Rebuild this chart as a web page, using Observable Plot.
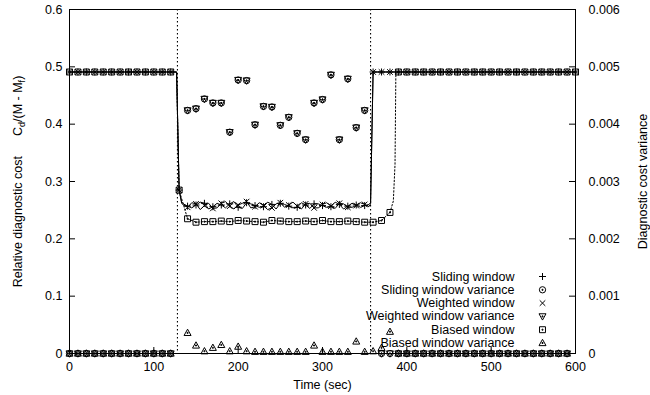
<!DOCTYPE html>
<html>
<head>
<meta charset="utf-8">
<script src="https://cdn.jsdelivr.net/npm/d3@7"></script>
<script src="https://cdn.jsdelivr.net/npm/@observablehq/plot@0.6"></script>
<style>
  html, body { margin: 0; padding: 0; background: #fff; }
  #chart { width: 650px; height: 395px; }
</style>
</head>
<body>
<div id="chart"></div>
<script>
// ---- Window cost samples (every 10 s), relative diagnostic cost ----
const sampleTime = [0,10,20,30,40,50,60,70,80,90,100,110,120,130,140,150,160,170,180,190,200,
  210,220,230,240,250,260,270,280,290,300,310,320,330,340,350,360,370,380,390,400,410,420,430,
  440,450,460,470,480,490,500,510,520,530,540,550,560,570,580,590,600];

const slidingCost = [0.491,0.491,0.491,0.491,0.491,0.491,0.491,0.491,0.491,0.491,0.491,0.491,0.491,
  0.285,
  0.257,0.259,0.262,0.256,0.259,0.261,0.255,0.263,0.258,0.256,0.260,0.262,0.257,0.255,0.259,0.261,
  0.258,0.256,0.260,0.257,0.259,0.258,
  0.491,0.491,0.491,0.491,0.491,0.491,0.491,0.491,0.491,0.491,0.491,0.491,0.491,0.491,0.491,0.491,
  0.491,0.491,0.491,0.491,0.491,0.491,0.491,0.491,0.491];

const weightedCost = [0.491,0.491,0.491,0.491,0.491,0.491,0.491,0.491,0.491,0.491,0.491,0.491,0.491,
  0.285,
  0.255,0.261,0.258,0.253,0.262,0.257,0.259,0.265,0.256,0.258,0.254,0.263,0.259,0.257,0.261,0.254,
  0.260,0.257,0.262,0.255,0.258,0.260,
  0.491,0.491,0.491,0.491,0.491,0.491,0.491,0.491,0.491,0.491,0.491,0.491,0.491,0.491,0.491,0.491,
  0.491,0.491,0.491,0.491,0.491,0.491,0.491,0.491,0.491];

const biasedCost = [0.491,0.491,0.491,0.491,0.491,0.491,0.491,0.491,0.491,0.491,0.491,0.491,0.491,
  0.285,0.235,0.229,
  0.230,0.230,0.231,0.230,0.232,0.231,0.230,0.229,0.232,0.231,0.230,0.230,0.231,0.230,0.232,0.230,
  0.230,0.231,0.230,0.229,
  0.229,0.232,0.246,
  0.491,0.491,0.491,0.491,0.491,0.491,0.491,0.491,0.491,0.491,0.491,0.491,0.491,0.491,0.491,0.491,
  0.491,0.491,0.491,0.491,0.491,0.491];

// ---- Readings between the 10 s samples (drawn as line only) ----
const slidingMidTime = [127,133,135,145,155,165,175,185,195,205,215,225,235,245,255,265,275,285,
  295,305,315,325,335,345,355,357];
const slidingMidCost = [0.491,0.264,0.261,0.254,0.264,0.252,0.262,0.254,0.265,0.253,0.261,0.255,
  0.264,0.252,0.260,0.254,0.263,0.253,0.261,0.255,0.264,0.252,0.262,0.255,0.260,0.263];

const weightedMidTime = [127,133,135,145,155,165,175,185,195,205,215,225,235,245,255,265,275,285,
  295,305,315,325,335,345,355,357];
const weightedMidCost = [0.491,0.262,0.259,0.263,0.251,0.262,0.254,0.265,0.252,0.262,0.254,0.263,
  0.251,0.261,0.255,0.264,0.252,0.262,0.254,0.263,0.253,0.261,0.255,0.263,0.256,0.261];

const biasedMidTime = [127,384,386,387];
const biasedMidCost = [0.491,0.266,0.330,0.491];

// ---- Diagnostic cost variance (right axis) ----
const varTime = [0,10,20,30,40,50,60,70,80,90,100,110,120,
  140,150,160,170,180,190,200,210,220,230,240,250,260,270,280,290,300,310,320,330,340,350,
  370,380,390,400,410,420,430,440,450,460,470,480,490,500,510,520,530,540,550,560,570,580,590];
const slidingVar = [0,0,0,0,0,0,0,0,0,0,0,0,0,
  0.00424,0.00427,0.00444,0.00437,0.00437,0.00386,0.00477,0.00476,0.00399,0.00431,0.00430,
  0.00398,0.00412,0.00384,0.00373,0.00437,0.00443,0.00486,0.00373,0.00479,0.00394,0.00424,
  0,0,0,0,0,0,0,0,0,0,0,0,0,0,0,0,0,0,0,0,0,0,0];
const weightedVar = [0,0,0,0,0,0,0,0,0,0,0,0,0,
  0.00424,0.00427,0.00444,0.00437,0.00437,0.00386,0.00477,0.00476,0.00399,0.00431,0.00430,
  0.00398,0.00412,0.00384,0.00373,0.00437,0.00443,0.00486,0.00373,0.00479,0.00394,0.00424,
  0,0,0,0,0,0,0,0,0,0,0,0,0,0,0,0,0,0,0,0,0,0,0];

const biasedVarTime = [0,10,20,30,40,50,60,70,80,90,100,110,120,
  140,150,160,170,180,190,200,210,220,230,240,250,260,270,280,290,300,310,320,330,340,350,360,370,380,
  390,400,410,420,430,440,450,460,470,480,490,500,510,520,530,540,550,560,570,580,590];
const biasedVar = [0,0,0,0,0,0,0,0,0,0,0,0,0,
  0.00036,0.00014,0.00004,0.00010,0.00015,0.00004,0.00012,0.00004,0.00003,0.00003,0.00003,0.00003,
  0.00003,0.00003,0.00003,0.00014,0.00003,0.00003,0.00003,0.00003,0.00021,0.00003,0.00004,0.00010,0.00038,
  0,0,0,0,0,0,0,0,0,0,0,0,0,0,0,0,0,0,0,0,0];

// Event instants (vertical dotted markers)
const eventTimes = [128, 357];

// ---- Axes ----
const xTicks = [0,100,200,300,400,500,600];
const leftTicks = [0,0.1,0.2,0.3,0.4,0.5,0.6];
const rightTicks = [0,0.001,0.002,0.003,0.004,0.005,0.006];
const ratio = 0.6 / 0.006; // left-axis units per right-axis unit

const legendNames = ["Sliding window","Sliding window variance","Weighted window",
  "Weighted window variance","Biased window","Biased window variance"];

// ---- Layout ----
const W = 650, H = 395;
const M = {left: 69, right: 75, top: 9, bottom: 42};
const frameW = W - M.left - M.right, frameH = H - M.top - M.bottom;
const tickLen = 6;

// ---- Helpers ----
const rows = (ts, vs) => ts.map((t, i) => ({t, v: vs[i]}));
const merged = (a, b) => a.concat(b).sort((p, q) => p.t - q.t);

const slidingPts = rows(sampleTime, slidingCost);
const weightedPts = rows(sampleTime, weightedCost);
const biasedPts = rows(sampleTime, biasedCost);
const slidingLine = merged(slidingPts, rows(slidingMidTime, slidingMidCost));
const weightedLine = merged(weightedPts, rows(weightedMidTime, weightedMidCost));
const biasedLine = merged(biasedPts, rows(biasedMidTime, biasedMidCost));
const slidingVarPts = rows(varTime, slidingVar);
const weightedVarPts = rows(varTime, weightedVar);
const biasedVarPts = rows(biasedVarTime, biasedVar);

// Point symbols in the style of the PostScript terminal (open shapes with a centre dot)
const rad = s => Math.sqrt(s / Math.PI);
const centreDot = c => c.rect(-0.5, -0.5, 1, 1);
const sym = {
  plus: {draw(c, s) { const r = rad(s); c.moveTo(-r, 0); c.lineTo(r, 0); c.moveTo(0, -r); c.lineTo(0, r); }},
  times: {draw(c, s) { const r = rad(s) * 0.8; c.moveTo(-r, -r); c.lineTo(r, r); c.moveTo(-r, r); c.lineTo(r, -r); }},
  circle: {draw(c, s) { const r = rad(s) * 0.9; c.moveTo(r, 0); c.arc(0, 0, r, 0, 2 * Math.PI); centreDot(c); }},
  triDown: {draw(c, s) { const r = rad(s); c.moveTo(-r, -0.75 * r); c.lineTo(r, -0.75 * r); c.lineTo(0, 1.05 * r); c.closePath(); centreDot(c); }},
  square: {draw(c, s) { const r = rad(s) * 0.85; c.rect(-r, -r, 2 * r, 2 * r); centreDot(c); }},
  triUp: {draw(c, s) { const r = rad(s); c.moveTo(0, -1.05 * r); c.lineTo(r, 0.75 * r); c.lineTo(-r, 0.75 * r); c.closePath(); centreDot(c); }}
};
const legendSymbols = [sym.plus, sym.circle, sym.times, sym.triDown, sym.square, sym.triUp];

const markStyle = {stroke: "black", fill: "none", strokeWidth: 1, r: 3.5};
const onTenSeconds = d => d.t % 10 === 0;

const yLabel = "Relative diagnostic cost|C_d/(M - M_f)";

const chart = Plot.plot({
  width: W,
  height: H,
  marginLeft: M.left,
  marginRight: M.right,
  marginTop: M.top,
  marginBottom: M.bottom,
  style: {fontFamily: "'Liberation Sans', Arial, Helvetica, sans-serif", fontSize: "12.5px", background: "#fff", color: "#000"},
  x: {domain: [0, 600]},
  y: {domain: [0, 0.6]},
  marks: [
    Plot.ruleX(eventTimes, {stroke: "black", strokeWidth: 1.1, strokeDasharray: "1.5,2.5"}),
    Plot.line(slidingLine, {x: "t", y: "v", stroke: "black", strokeWidth: 1}),
    Plot.line(weightedLine, {x: "t", y: "v", stroke: "black", strokeWidth: 1}),
    Plot.line(biasedLine, {x: "t", y: "v", stroke: "black", strokeWidth: 1, strokeDasharray: "1.5,2"}),
    Plot.dot(slidingPts, {x: "t", y: "v", symbol: sym.plus, ...markStyle}),
    Plot.dot(weightedPts, {x: "t", y: "v", symbol: sym.times, ...markStyle}),
    Plot.dot(biasedPts, {filter: onTenSeconds, x: "t", y: "v", symbol: sym.square, ...markStyle}),
    Plot.dot(slidingVarPts, {x: "t", y: d => d.v * ratio, symbol: sym.circle, ...markStyle}),
    Plot.dot(weightedVarPts, {x: "t", y: d => d.v * ratio, symbol: sym.triDown, ...markStyle}),
    Plot.dot(biasedVarPts, {x: "t", y: d => d.v * ratio, symbol: sym.triUp, ...markStyle}),
    // key
    ...legendNames.map((name, i) => Plot.text([name], {frameAnchor: "top-right", dx: -61, dy: 267 + i * 13.3,
      textAnchor: "end", lineAnchor: "middle", fill: "black"})),
    ...legendNames.map((name, i) => Plot.dot([name], {frameAnchor: "top-right", dx: -33, dy: 267 + i * 13.3,
      symbol: legendSymbols[i], ...markStyle})),
    // inward ticks
    Plot.tickX(xTicks, {x: d => d, insetTop: frameH - tickLen, stroke: "black", strokeWidth: 1}),
    Plot.tickY(leftTicks, {y: d => d, insetRight: frameW - tickLen, stroke: "black", strokeWidth: 1}),
    Plot.tickY(rightTicks, {y: d => d * ratio, insetLeft: frameW - tickLen, stroke: "black", strokeWidth: 1}),
    // tick labels
    Plot.axisX({ticks: xTicks, tickSize: 0, tickPadding: 9, label: null}),
    Plot.axisY({ticks: leftTicks, anchor: "left", tickSize: 0, tickPadding: 7, label: null,
      tickFormat: d => String(+d.toFixed(2))}),
    Plot.axisY({ticks: rightTicks.map(v => v * ratio), anchor: "right", tickSize: 0, tickPadding: 13, label: null,
      tickFormat: d => String(+(d / ratio).toFixed(4))}),
    // axis titles
    Plot.text(["Time (sec)"], {frameAnchor: "bottom", dy: 31, lineAnchor: "middle", textAnchor: "middle", fill: "black"}),
    Plot.text([yLabel], {frameAnchor: "left", dx: -52, rotate: -90, textAnchor: "middle", lineAnchor: "middle", fill: "black"}),
    Plot.text(["Diagnostic cost variance"], {frameAnchor: "right", dx: 67, rotate: -90, textAnchor: "middle", lineAnchor: "middle", fill: "black"}),
    Plot.frame({stroke: "black", strokeWidth: 1})
  ]
});

// Typeset the left-axis title with subscripts
d3.select(chart).selectAll("text").filter(function() { return this.textContent === yLabel; })
  .each(function() {
    const t = d3.select(this).text(null);
    t.append("tspan").text("Relative diagnostic cost");
    t.append("tspan").attr("dx", 20).text("C");
    t.append("tspan").attr("dy", 3).attr("font-size", "9px").text("d");
    t.append("tspan").attr("dy", -3).text("/(M - M");
    t.append("tspan").attr("dy", 3).attr("font-size", "9px").text("f");
    t.append("tspan").attr("dy", -3).text(")");
  });

document.getElementById("chart").appendChild(chart);
</script>
</body>
</html>
